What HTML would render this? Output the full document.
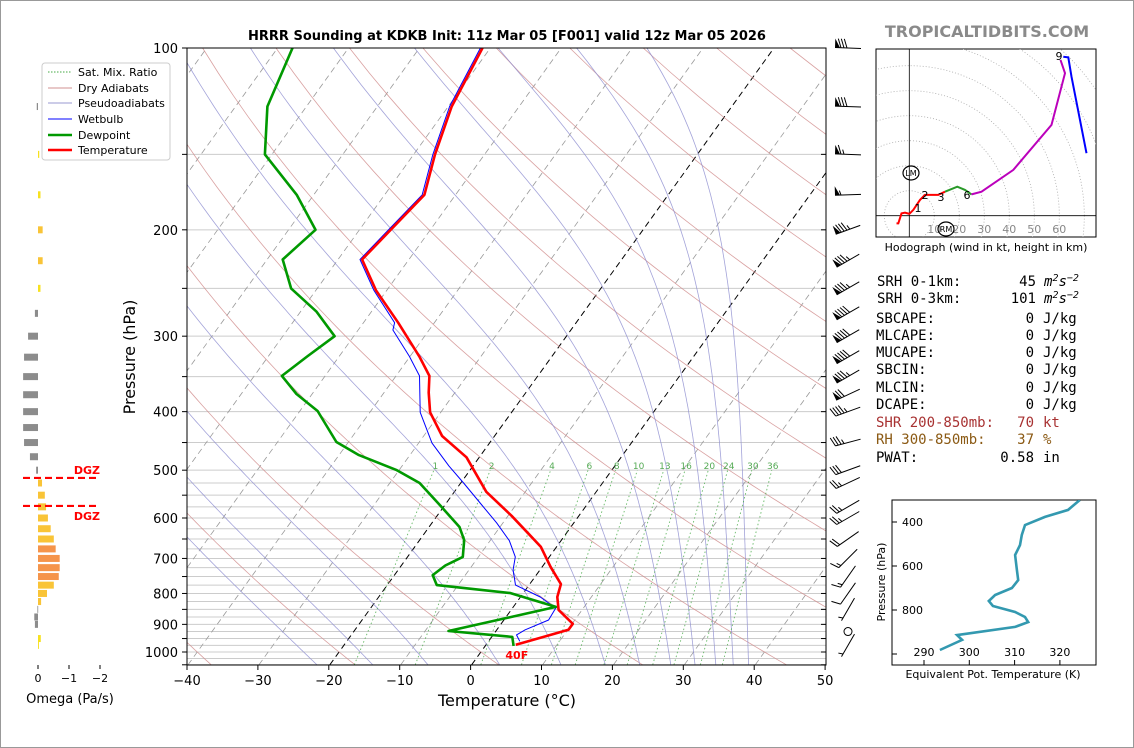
<!DOCTYPE html>
<html><head><meta charset="utf-8"><style>
html,body{margin:0;padding:0;background:#fff}
svg{display:block}
text{font-family:"DejaVu Sans","Liberation Sans",sans-serif}
.mono{font-family:"DejaVu Sans Mono","Liberation Mono",monospace;font-size:14px}
</style></head><body>
<svg id="s" width="1134" height="748" viewBox="0 0 1134 748" xmlns="http://www.w3.org/2000/svg">
<rect x="0.5" y="0.5" width="1133" height="747" fill="#fff" stroke="#999"/>
<defs>
<clipPath id="cm"><rect x="187" y="48" width="639" height="617"/></clipPath>
<clipPath id="ch"><rect x="876" y="49" width="220" height="188"/></clipPath>
<clipPath id="ct"><rect x="892" y="500" width="204" height="165"/></clipPath>
</defs>
<text x="507" y="40" text-anchor="middle" font-size="13" font-weight="bold">HRRR Sounding at KDKB Init: 11z Mar 05 [F001] valid 12z Mar 05 2026</text>
<text x="987" y="37" text-anchor="middle" font-size="16" font-weight="bold" fill="#8a8a8a">TROPICALTIDBITS.COM</text>
<g id="bg" clip-path="url(#cm)"></g>
<g id="data" clip-path="url(#cm)"></g>
<g id="axes"></g>
<g id="barbs"></g>
<g id="omega"></g>
<g id="hodo"></g>
<g id="te"></g>
<g id="legend">
<rect x="42" y="63" width="128" height="97" rx="3" fill="#fff" stroke="#ccc"/>
<line x1="48" y1="72" x2="72" y2="72" stroke="#4a4" stroke-dasharray="1.5,1.5"/>
<text x="78" y="76" font-size="11">Sat. Mix. Ratio</text>
<line x1="48" y1="88" x2="72" y2="88" stroke="#d09090"/>
<text x="78" y="92" font-size="11">Dry Adiabats</text>
<line x1="48" y1="103" x2="72" y2="103" stroke="#9999d0"/>
<text x="78" y="107" font-size="11">Pseudoadiabats</text>
<line x1="48" y1="119" x2="72" y2="119" stroke="#00f"/>
<text x="78" y="123" font-size="11">Wetbulb</text>
<line x1="48" y1="135" x2="72" y2="135" stroke="#090" stroke-width="2.5"/>
<text x="78" y="139" font-size="11">Dewpoint</text>
<line x1="48" y1="150" x2="72" y2="150" stroke="#f00" stroke-width="2.5"/>
<text x="78" y="154" font-size="11">Temperature</text>
</g>
<g id="stats">
<text class="mono" x="877" y="286">SRH 0-1km:</text><text class="mono" x="1036" y="286" text-anchor="end">45</text><text class="mono" x="1044" y="286" font-style="italic">m<tspan dy="-5" font-size="10">2</tspan><tspan dy="5">s</tspan><tspan dy="-5" font-size="10">−2</tspan></text>
<text class="mono" x="877" y="303">SRH 0-3km:</text><text class="mono" x="1036" y="303" text-anchor="end">101</text><text class="mono" x="1044" y="303" font-style="italic">m<tspan dy="-5" font-size="10">2</tspan><tspan dy="5">s</tspan><tspan dy="-5" font-size="10">−2</tspan></text>
<text class="mono" x="876" y="323">SBCAPE:</text><text class="mono" x="1034" y="323" text-anchor="end">0</text><text class="mono" x="1043" y="323">J/kg</text>
<text class="mono" x="876" y="340">MLCAPE:</text><text class="mono" x="1034" y="340" text-anchor="end">0</text><text class="mono" x="1043" y="340">J/kg</text>
<text class="mono" x="876" y="357">MUCAPE:</text><text class="mono" x="1034" y="357" text-anchor="end">0</text><text class="mono" x="1043" y="357">J/kg</text>
<text class="mono" x="876" y="374">SBCIN:</text><text class="mono" x="1034" y="374" text-anchor="end">0</text><text class="mono" x="1043" y="374">J/kg</text>
<text class="mono" x="876" y="392">MLCIN:</text><text class="mono" x="1034" y="392" text-anchor="end">0</text><text class="mono" x="1043" y="392">J/kg</text>
<text class="mono" x="876" y="409">DCAPE:</text><text class="mono" x="1034" y="409" text-anchor="end">0</text><text class="mono" x="1043" y="409">J/kg</text>
<text class="mono" x="876" y="427" fill="#a83232">SHR 200-850mb:</text><text class="mono" x="1034" y="427" text-anchor="end" fill="#a83232">70</text><text class="mono" x="1043" y="427" fill="#a83232">kt</text>
<text class="mono" x="876" y="444" fill="#8b5a14">RH 300-850mb:</text><text class="mono" x="1034" y="444" text-anchor="end" fill="#8b5a14">37</text><text class="mono" x="1043" y="444" fill="#8b5a14">%</text>
<text class="mono" x="876" y="462">PWAT:</text><text class="mono" x="1034" y="462" text-anchor="end">0.58</text><text class="mono" x="1043" y="462">in</text>
</g>
</svg>
<script>
// ---- main sounding data ----
const tempP = [973,919,898,852,811,772,723,670,637,595,543,476,439,401,372,349,324,285,252,224,175,150,125,100];
const tempT = [4.2,10.1,10.1,6.7,5.2,4.4,1.2,-2.2,-5.3,-9.5,-15.5,-21.8,-27.4,-31.5,-33.7,-35.3,-38.7,-45.1,-51.5,-56.6,-54.4,-57,-59.5,-61.1];
const dewP = [977,944,923,842,799,775,746,719,696,653,621,575,525,500,472,449,399,374,349,324,300,273,250,224,200,175,150,125,100];
const dewT = [4.0,2.9,-6.7,6.0,-1.8,-13,-14.6,-13.8,-12.2,-13.7,-15.7,-20.3,-25.8,-30.3,-37.2,-41.7,-47.5,-52.2,-56.1,-54.5,-52.7,-57.8,-63.7,-67.8,-66.2,-72.4,-81,-85.5,-87.9];
const wbP = [960,937,919,885,846,811,775,731,696,654,611,571,525,492,451,401,349,324,293,285,252,224,175,150,125,100];
const wbT = [4.4,3.3,4.0,6.3,6.1,2.8,-1.9,-3.8,-4.8,-7.3,-10.9,-14.8,-19.6,-23.4,-28.1,-32.9,-36.7,-40.1,-45.1,-45.6,-51.8,-56.9,-54.7,-57.3,-59.8,-61.4];
// ---- wind barbs ----
const barbP = [100,125,150,175,200,225,250,275,300,325,350,375,400,450,500,525,575,600,650,700,750,800,850,925,975];
const barbSpd = [80,80,65,55,85,85,85,90,90,90,85,70,45,35,30,25,25,25,20,15,15,10,5,0,5];
const barbDir = [272,272,272,268,250,240,240,240,240,240,240,245,250,255,250,245,240,240,235,225,215,215,210,0,210];
// ---- omega ----
const omegaP = [125,150,175,200,225,250,275,300,325,350,375,400,425,450,475,500,525,550,575,600,625,650,675,700,725,750,775,800,825,850,875,900,950,975];
const omegaV = [0.04,-0.04,-0.08,-0.15,-0.15,-0.08,0.1,0.32,0.45,0.48,0.48,0.48,0.48,0.45,0.26,0.06,-0.13,-0.22,-0.26,-0.32,-0.41,-0.51,-0.57,-0.7,-0.7,-0.67,-0.51,-0.29,-0.1,0.02,0.12,0.1,-0.09,-0.03];
const dgzP = [515,573];
// ---- hodograph (kt) ----
const hodoRedU = [-5.1,-4.4,-3.1,-1.7,0,1.6,4.3,6.3,11.6,14.3];
const hodoRedV = [-3.1,-3.1,0.9,1.2,0.7,2.3,6.3,8.3,8.3,9.6];
const hodoGreenU = [14.3,19.2,22.3,24.9];
const hodoGreenV = [9.6,11.6,10.3,8.5];
const hodoPurpleU = [24.9,28.9,41.6,56.9,62.3,60.5];
const hodoPurpleV = [8.5,9.6,18.3,36.3,57,62.3];
const hodoBlueU = [61.6,63.6,64.9,70.9];
const hodoBlueV = [63.6,63.3,55.6,25];
// ---- theta-e ----
const teP = [300,345,377,414,459,505,550,618,664,700,732,759,782,809,832,855,877,914,936,982];
const teV = [324.4,321.8,316.7,312.3,311.6,311.2,310.1,310.5,310.8,309.4,305.7,304.3,305.2,310.1,312.3,313,310.1,297.3,298.4,293.5];
// ---- ticks ----
const tempTicks = [-40,-30,-20,-10,0,10,20,30,40,50];
const presLabels = [100,200,300,400,500,600,700,800,900,1000];
const mixW = [1,2,4,6,8,10,13,16,20,24,30,36];

const NS="http://www.w3.org/2000/svg";
function el(tag,attrs,parent,txt){const e=document.createElementNS(NS,tag);for(const k in attrs)e.setAttribute(k,attrs[k]);if(txt!==undefined)e.textContent=txt;parent.appendChild(e);return e;}
const yP=p=>48+604*Math.log10(p/100);
const SK=0.72;
const xT=(T,p)=>471.5+7.09*T+SK*(665-yP(p));
const bg=document.getElementById('bg'), dg=document.getElementById('data'), ax=document.getElementById('axes');

let gridP=[];for(let p=100;p<500;p+=50)gridP.push(p);for(let p=500;p<=1050;p+=25)gridP.push(p);
gridP.forEach(p=>{const l=el('line',{x1:187,x2:826,y1:yP(p),y2:yP(p),stroke:'#ccc','stroke-width':1},bg);

});
for(let T=-120;T<=50;T+=10){const l=el('line',{x1:xT(T,1050),y1:yP(1050),x2:xT(T,100),y2:yP(100),stroke:(T===0||T===-20)?'#000':'#999','stroke-width':(T===0||T===-20)?1:0.8,'stroke-dasharray':'6,4'},bg);

}
for(let th=-40;th<=220;th+=20){let d='';for(let p=1050;p>=100;p-=10){const T=(th+273.15)*Math.pow(p/1000,0.2857)-273.15;d+=(d?'L':'M')+xT(T,p).toFixed(1)+','+yP(p).toFixed(1);}
const l=el('path',{d:d,fill:'none',stroke:'#d08a8a','stroke-width':0.8,opacity:0.8},bg);

}
function rs(T,p){const es=6.112*Math.exp(17.67*(T-273.15)/(T-29.65));return 0.622*es/(p-es);}
function dTdp(T,p){const r=rs(T,p);return (287*T+2.5e6*r)/(p*(1005+2.5e6*2.5e6*r*0.622/(287*T*T)));}
[-25,-17,-9,1.5,10.5,17,22,26.5,30,33,35.5,37.7].forEach(t0=>{let T=t0+273.15,pts=[];
for(let p=1000;p>=100;p-=5){pts.push([p,T]);T-=dTdp(T,p)*5;}
T=t0+273.15;let lo=[];for(let p=1000;p<=1050;p+=5){lo.push([p,T]);T+=dTdp(T,p)*5;}
const all=lo.reverse().concat(pts);let d='';all.forEach(q=>{d+=(d?'L':'M')+xT(q[1]-273.15,q[0]).toFixed(1)+','+yP(q[0]).toFixed(1);});
const l=el('path',{d:d,fill:'none',stroke:'#8c8cd0','stroke-width':0.8,opacity:0.8},bg);

});
function tdFromW(w,p){const e=w*p/(622+w);const g=Math.log(e/6.112);return 243.5*g/(17.67-g);}
mixW.forEach(w=>{const l=el('line',{x1:xT(tdFromW(w,1050),1050),y1:yP(1050),x2:xT(tdFromW(w,500),500),y2:yP(500),stroke:'#4a4','stroke-width':0.9,'stroke-dasharray':'1.5,2.5',opacity:0.8},bg);


const t=el('text',{x:xT(tdFromW(w,493),493),y:469,'text-anchor':'middle','font-size':9,fill:'#5a5'},bg,String(w));

});
function prof(P,T,color,w,name){let d='';P.forEach((p,i)=>{d+=(i?'L':'M')+xT(T[i],p).toFixed(1)+','+yP(p).toFixed(1);});
const l=el('path',{d:d,fill:'none',stroke:color,'stroke-width':w,'stroke-linejoin':'round'},dg);

}
prof(wbP,wbT,'#00f',1,'wetbulb-line');
prof(dewP,dewT,'#090',2.6,'dewpoint-line');
prof(tempP,tempT,'#f00',2.6,'temperature-line');
const f40=el('text',{x:xT(tempT[0],tempP[0])+1,y:yP(tempP[0])+14,'text-anchor':'middle','font-size':11,'font-weight':'bold',fill:'#f00'},dg,'40F');



el('rect',{x:187,y:48,width:639,height:617,fill:'none',stroke:'#000','stroke-width':1},ax);
tempTicks.forEach(T=>{const x=187+(T+40)*7.09;el('line',{x1:x,x2:x,y1:665,y2:670,stroke:'#000'},ax);
const t=el('text',{x:x,y:685,'text-anchor':'middle','font-size':13},ax,T<0?'\u2212'+(-T):String(T));

});
for(let p=100;p<=1050;p+=50){const y=yP(p);el('line',{x1:182,x2:187,y1:y,y2:y,stroke:'#000'},ax);el('line',{x1:821,x2:826,y1:y,y2:y,stroke:'#000'},ax);}
presLabels.forEach(p=>{const t=el('text',{x:178,y:yP(p)+5,'text-anchor':'end','font-size':13},ax,String(p));

});
let t=el('text',{x:507,y:706,'text-anchor':'middle','font-size':16},ax,'Temperature (°C)');


t=el('text',{x:135,y:357,'text-anchor':'middle','font-size':16,transform:'rotate(-90 135 357)'},ax,'Pressure (hPa)');



const bgp=document.getElementById('barbs');
barbP.forEach((p,i)=>{const cx=848,cy=yP(p),spd=barbSpd[i];
if(spd<2.5){const c=el('circle',{cx:cx,cy:cy,r:4,fill:'none',stroke:'#000'},bgp);

return;}
const r=barbDir[i]*Math.PI/180,sx=Math.sin(r),sy=-Math.cos(r),px=-sy,py=sx,L=26;
const Ux=cx+L/2*sx,Uy=cy+L/2*sy,Bx=cx-L/2*sx,By=cy-L/2*sy;
const g=el('g',{},bgp);


el('line',{x1:Ux,y1:Uy,x2:Bx,y2:By,stroke:'#000','stroke-width':1},g);
let s=Math.round(spd/5)*5,tpos=0;const Q=t=>[Ux-t*sx,Uy-t*sy];
while(s>=50){const a=Q(tpos),b=Q(tpos+5);el('polygon',{points:`${a[0]},${a[1]} ${a[0]+9*px},${a[1]+9*py} ${b[0]},${b[1]}`,fill:'#000'},g);tpos+=6;s-=50;}
while(s>=10){const a=Q(tpos);el('line',{x1:a[0],y1:a[1],x2:a[0]+9*px+3*sx,y2:a[1]+9*py+3*sy,stroke:'#000'},g);tpos+=3;s-=10;}
if(s>=5){if(tpos===0)tpos=3;const a=Q(tpos);el('line',{x1:a[0],y1:a[1],x2:a[0]+4.5*px+1.5*sx,y2:a[1]+4.5*py+1.5*sy,stroke:'#000'},g);}
});

const om=document.getElementById('omega');
omegaP.forEach((p,i)=>{const v=omegaV[i],x2=38-31*v,y=yP(p);
const col=v>0?'#8c8c8c':(v>-0.1?'#f7e11f':(v>-0.55?'#f9c437':'#f5944a'));
const r=el('rect',{x:Math.min(38,x2),y:y-3.5,width:Math.max(0.8,Math.abs(x2-38)),height:7,fill:col},om);

});
dgzP.forEach((p,i)=>{const y=yP(p);const l=el('line',{x1:23,x2:100,y1:y,y2:y,stroke:'#f00','stroke-width':2.2,'stroke-dasharray':'7,4'},om);


const tt=el('text',{x:100,y:i===0?y-4:y+14,'text-anchor':'end','font-size':11,'font-weight':'bold',fill:'#f00'},om,'DGZ');

});
[[0,'0'],[-1,'\u22121'],[-2,'\u22122']].forEach(o=>{const x=38-31*o[0];el('line',{x1:x,x2:x,y1:665,y2:669,stroke:'#000'},om);
const tt=el('text',{x:x,y:682,'text-anchor':'middle','font-size':11},om,o[1]);

});
t=el('text',{x:70,y:703,'text-anchor':'middle','font-size':13},om,'Omega (Pa/s)');



const hg=document.getElementById('hodo'),ox=909.3,oy=215.7,hs=2.5;
el('rect',{x:876,y:49,width:220,height:188,fill:'#fff',stroke:'#000'},hg);
const hc=el('g',{'clip-path':'url(#ch)'},hg);
for(let r=10;r<=130;r+=10)el('circle',{cx:ox,cy:oy,r:r*hs,fill:'none',stroke:'#aaa','stroke-width':0.8,'stroke-dasharray':'1,2'},hc);
el('line',{x1:876,x2:1096,y1:oy,y2:oy,stroke:'#000','stroke-width':0.8},hc);
el('line',{x1:ox,x2:ox,y1:49,y2:237,stroke:'#000','stroke-width':0.8},hc);
[10,20,30,40,50,60].forEach(k=>{const tt=el('text',{x:ox+k*hs,y:233,'text-anchor':'middle','font-size':11,fill:'#888'},hc,String(k));

});
function hline(U,V,c,n){let d='';U.forEach((u,i)=>{d+=(i?'L':'M')+(ox+u*hs).toFixed(1)+','+(oy-V[i]*hs).toFixed(1);});
const l=el('path',{d:d,fill:'none',stroke:c,'stroke-width':2},hc);

}
hline(hodoRedU,hodoRedV,'#f00','hodo-0-3km');
hline(hodoGreenU,hodoGreenV,'#2a9a2a','hodo-3-6km');
hline(hodoPurpleU,hodoPurpleV,'#b0b','hodo-6-9km');
hline(hodoBlueU,hodoBlueV,'#00f','hodo-9km-plus');
[['1',918,212],['2',925,199],['3',941,201],['6',967,199],['9',1059,60]].forEach(a=>{const tt=el('text',{x:a[1],y:a[2],'text-anchor':'middle','font-size':11},hc,a[0]);

});
[['LM',911,173],['RM',946,229]].forEach(a=>{el('ellipse',{cx:a[1],cy:a[2],rx:8,ry:7,fill:'#fff','fill-opacity':0,stroke:'#000','stroke-width':1.2},hc);
const tt=el('text',{x:a[1],y:a[2]+3,'text-anchor':'middle','font-size':8},hc,a[0]);

});
t=el('text',{x:986,y:251,'text-anchor':'middle','font-size':11},hg,'Hodograph (wind in kt, height in km)');



const tg=document.getElementById('te');
const yTE=p=>522+(p-400)*0.22, xTE=v=>924+(v-290)*4.53;
el('rect',{x:892,y:500,width:204,height:165,fill:'#fff',stroke:'#000'},tg);
[400,600,800,1000].forEach(p=>{el('line',{x1:892,x2:897,y1:yTE(p),y2:yTE(p),stroke:'#000'},tg);
if(p<1000){const tt=el('text',{x:923,y:yTE(p)+4,'text-anchor':'end','font-size':11},tg,String(p));

}});
[290,300,310,320].forEach(v=>{el('line',{x1:xTE(v),x2:xTE(v),y1:660,y2:665,stroke:'#000'},tg);
const tt=el('text',{x:xTE(v),y:656,'text-anchor':'middle','font-size':11},tg,String(v));

});
let dd='';teP.forEach((p,i)=>{dd+=(i?'L':'M')+xTE(teV[i]).toFixed(1)+','+yTE(p).toFixed(1);});
const tl=el('path',{d:dd,fill:'none',stroke:'#3399b0','stroke-width':2.6,'clip-path':'url(#ct)'},tg);


t=el('text',{x:885,y:582,'text-anchor':'middle','font-size':11,transform:'rotate(-90 885 582)'},tg,'Pressure (hPa)');


t=el('text',{x:993,y:678,'text-anchor':'middle','font-size':11},tg,'Equivalent Pot. Temperature (K)');


</script>
</body></html>
